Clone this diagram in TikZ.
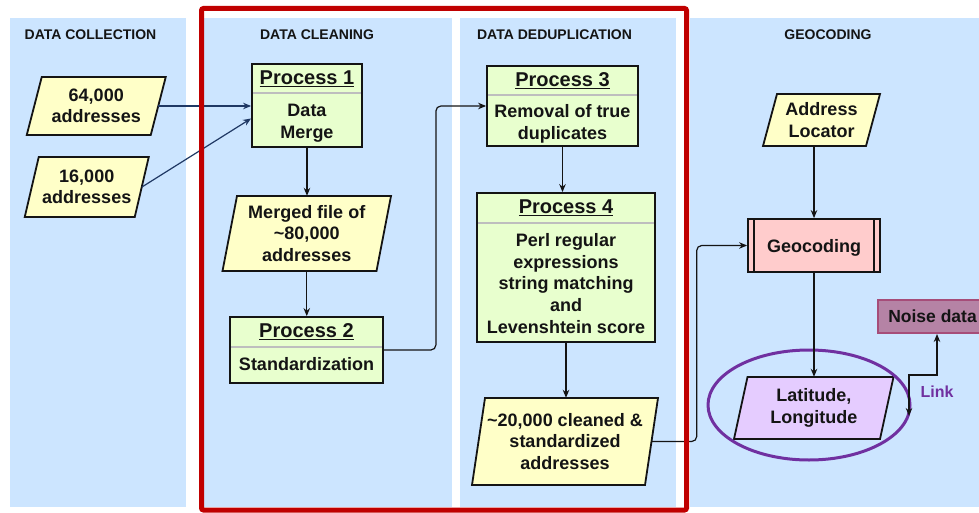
\documentclass[tikz,border=0pt]{standalone}
\usepackage{fontspec}
\setmainfont{Liberation Sans}
\usetikzlibrary{arrows.meta,shapes.geometric}
\definecolor{lanecol}{RGB}{204,229,255}
\definecolor{yelcol}{RGB}{255,255,200}
\definecolor{grncol}{RGB}{232,255,206}
\definecolor{pinkcol}{RGB}{255,204,204}
\definecolor{lavcol}{RGB}{229,204,255}
\definecolor{redcol}{RGB}{192,0,0}
\definecolor{purpcol}{RGB}{112,48,160}
\definecolor{noisefill}{RGB}{181,131,165}
\definecolor{noisedraw}{RGB}{166,77,121}
\definecolor{navycol}{RGB}{31,56,100}
\definecolor{inkcol}{RGB}{20,20,20}

\newcommand\parabox[8]{%
  \filldraw[parastyle, fill=#7]
    (#2-#4/2+#6/2, #3-#5/2) -- (#2+#4/2+#6/2, #3-#5/2) --
    (#2+#4/2-#6/2, #3+#5/2) -- (#2-#4/2-#6/2, #3+#5/2) -- cycle;
  \node[paratext, minimum width=#4, minimum height=#5] (#1) at (#2,#3) {#8};
}
\newcommand\procbox[9]{%
  \node[procstyle, minimum width=#4, minimum height=#5] (#1) at (#2,#3) {};
  \draw[sepline] (#2-#4/2+1, #6) -- (#2+#4/2-1, #6);
  \node[headtext] at (#2, {(#3-#5/2+#6)/2}) {\underline{#7}};
  \node[bodytext] at (#2, {(#6+#3+#5/2)/2+#9}) {#8};
}

\begin{document}
\begin{tikzpicture}[x=1pt,y=-1pt,
  lanestyle/.style={fill=lanecol, draw=none},
  titletext/.style={font=\fontsize{14}{16}\selectfont\bfseries, text=inkcol, inner sep=0},
  parastyle/.style={draw=inkcol, line width=1.8pt, line join=miter},
  paratext/.style={font=\fontsize{18}{21.5}\selectfont\bfseries, text=inkcol, align=center, inner sep=0, draw=none},
  procstyle/.style={draw=inkcol, line width=1.8pt, fill=grncol, inner sep=0},
  sepline/.style={draw={rgb,255:red,190;green,190;blue,190}, line width=1.2pt},
  headtext/.style={font=\fontsize{20}{22}\selectfont\bfseries, text=inkcol, inner sep=0},
  bodytext/.style={font=\fontsize{18}{21.75}\selectfont\bfseries, text=inkcol, align=center, inner sep=0},
  conn/.style={draw=inkcol, line width=1.2pt, -{Stealth[length=8pt,width=6.5pt]}, rounded corners=5pt},
  inconn/.style={draw=navycol, line width=1.2pt, -{Stealth[length=8pt,width=6.5pt]}},
  linkconn/.style={draw=inkcol, line width=1.2pt, {Stealth[length=8pt,width=6.5pt]}-{Stealth[length=8pt,width=6.5pt]}},
]
\useasboundingbox (0,0) rectangle (979,513);
\fill[white] (0,0) rectangle (979,513);

% lanes
\fill[lanestyle] (10,18) rectangle (186,507);
\fill[lanestyle] (204,18) rectangle (452,507);
\fill[lanestyle] (460,18) rectangle (676,507);
\fill[lanestyle] (690,18) rectangle (979,507);

% lane titles
\node[titletext] (t1) at (90.5,35) {DATA COLLECTION};
\node[titletext] (t2) at (317,35) {DATA CLEANING};
\node[titletext] (t3) at (554.5,35) {DATA DEDUPLICATION};
\node[titletext] (t4) at (828,35) {GEOCODING};

% data collection
\parabox{a64}{96.25}{106}{124}{58}{15}{yelcol}{64,000\\addresses}
\parabox{a16}{86.75}{187}{110}{60}{14}{yelcol}{16,000\\addresses}

% data cleaning
\procbox{p1}{307}{105.5}{110}{83}{93}{Process 1}{Data\\Merge}{3}
\parabox{merged}{306.75}{233.5}{154}{75}{14.5}{yelcol}{Merged file of\\\textasciitilde80,000\\addresses}
\procbox{p2}{306.5}{350}{153}{66}{347}{Process 2}{Standardization}{-1}

% data deduplication
\procbox{p3}{562.5}{106}{151}{80}{95}{Process 3}{Removal of true\\duplicates}{3}
\procbox{p4}{566}{267.5}{178}{149}{223}{Process 4}{Perl regular\\expressions\\string matching\\and\\Levenshtein score}{1}
\parabox{c20}{565}{441.5}{173}{87}{13}{yelcol}{\textasciitilde20,000 cleaned \&\\standardized\\addresses}

% geocoding
\parabox{addr}{821.5}{120}{103}{52}{14}{yelcol}{Address\\Locator}
\node[procstyle, fill=pinkcol, minimum width=132, minimum height=53] (geo) at (814,245.5) {};
\draw[inkcol, line width=1.8pt] ([xshift=7pt]geo.north west) -- ([xshift=7pt]geo.south west);
\draw[inkcol, line width=1.8pt] ([xshift=-7pt]geo.north east) -- ([xshift=-7pt]geo.south east);
\node[bodytext] (geotext) at (814,248) {Geocoding};
\parabox{lat}{813.75}{408}{146}{62}{13.5}{lavcol}{Latitude,\\Longitude}
\node[ellipse, draw=purpcol, line width=3pt, minimum width=202, minimum height=110, inner sep=0] (ell) at (809,405) {};
\node[draw=noisedraw, fill=noisefill, line width=2pt, minimum width=109, minimum height=33, inner sep=0,
      font=\fontsize{17.5}{19}\selectfont\bfseries, text=inkcol] (noise) at (932.5,316.5) {Noise data};
\coordinate (linkend) at (909,416);
\node[font=\fontsize{16}{18}\selectfont\bfseries, text=purpcol, inner sep=0] (linklbl) at (937,392) {Link};

% connectors
\draw[inconn] (a64.east) -- (a64.east -| p1.west);
\draw[inconn] (a16.east) -- ([yshift=-13pt]p1.west);
\draw[conn] (p1.south) -- (p1.south |- merged.north);
\draw[conn] (merged.south) -- (merged.south |- p2.north);
\draw[conn] (p2.east) -- ++(52,0) |- (p3.west);
\draw[conn] (p3.south) -- (p3.south |- p4.north);
\draw[conn] (p4.south) -- (p4.south |- c20.north);
\draw[conn] (c20.east) -- ++(45,0) |- (geo.west);
\draw[conn] (geo.north |- addr.south) -- (geo.north);
\draw[conn] (geo.south) -- (geo.south |- lat.north);
\draw[linkconn] ([xshift=4.5pt]noise.south) -- ++(0,41) -| (linkend);

% red frame
\draw[redcol, line width=5pt, rounded corners=2pt] (201.5,8.5) rectangle (686.5,510);
\end{tikzpicture}
\end{document}
